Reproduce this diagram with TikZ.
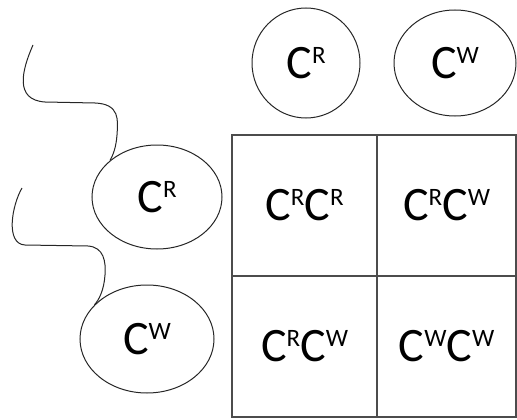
\documentclass[tikz,border=0pt]{standalone}
\usepackage{fontspec}
\setmainfont{Carlito}
\usetikzlibrary{shapes.geometric}
\newcommand{\gene}[1]{C\raisebox{15pt}{\fontsize{25}{25}\selectfont #1}}
\tikzset{
  blob/.style={draw=black!85, line width=1pt, ellipse, inner sep=0pt},
  cell/.style={draw=black!70, line width=1.3pt, rectangle, minimum height=141pt, inner sep=0pt},
  tail/.style={draw=black!85, line width=1pt}
}
\begin{document}
\begin{tikzpicture}[x=1pt, y=-1pt, font=\fontsize{48}{50}\selectfont]
\useasboundingbox (0,0) rectangle (517,420);
% top gametes
\node[blob, minimum width=108pt, minimum height=110pt] (topR) at (306,63) {\gene{R}};
\node[blob, minimum width=122pt, minimum height=106pt] (topW) at (455,63) {\gene{W}};
% left gametes
\node[blob, minimum width=130pt, minimum height=104pt] (leftR) at (157,197) {\gene{R}};
\node[blob, minimum width=134pt, minimum height=108pt] (leftW) at (147,339) {\gene{W}};
% punnett square
\node[cell, minimum width=145pt] (rr) at (304.5,205.5) {\gene{R}\gene{R}};
\node[cell, minimum width=139pt] (rw) at (446.5,205.5) {\gene{R}\gene{W}};
\node[cell, minimum width=145pt] (wr) at (304.5,346.5) {\gene{R}\gene{W}};
\node[cell, minimum width=139pt] (ww) at (446.5,346.5) {\gene{W}\gene{W}};
% tails
\coordinate (endR) at (33,45);
\coordinate (endW) at (22,188);
\draw[tail] (endR) .. controls (22,70) and (14,100) .. (45,102) -- (95,103)
  .. controls (120,104) and (118,120) .. (117,135)
  .. controls (116,148) and (113,155) .. (leftR.142);
\draw[tail] (endW) .. controls (12,205) and (5,244) .. (25,245) -- (88,246)
  .. controls (104,247) and (106,262) .. (105,275)
  .. controls (104,290) and (99,300) .. (leftW.147);
\end{tikzpicture}
\end{document}
